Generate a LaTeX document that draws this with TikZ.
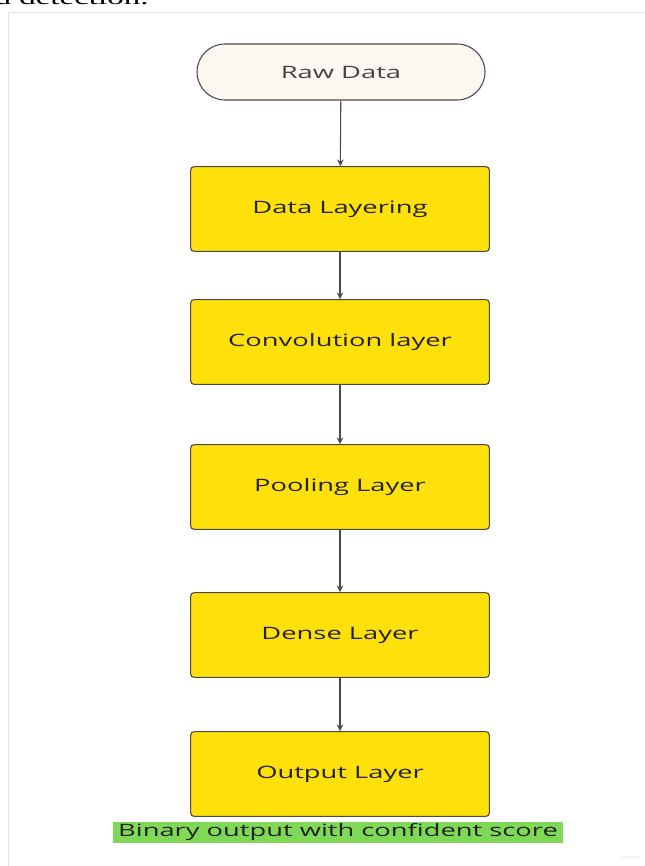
\documentclass[tikz,border=0pt]{standalone}
\usepackage{fontspec}
\setmainfont[FakeStretch=1.6]{Open Sans}
\newfontfamily\pagefont[FakeStretch=1.65]{Liberation Serif}
\usetikzlibrary{arrows.meta}
\definecolor{boxyellow}{HTML}{FEE00A}
\definecolor{rawfill}{HTML}{FCF8F1}
\definecolor{hlgreen}{HTML}{7FD957}
\definecolor{linegray}{HTML}{4A4A4A}
\definecolor{textgray}{HTML}{222222}
\begin{document}
\begin{tikzpicture}[x=0.75pt, y=-0.75pt, thick,
	layer/.style = {draw=linegray, line width=0.8pt, fill=boxyellow, rounded corners=2.5pt, minimum width=224pt, minimum height=63.5pt, text=textgray, font=\fontsize{12.8}{15}\selectfont},
	start/.style = {draw=linegray, line width=0.8pt, fill=rawfill, rounded corners=21pt, minimum width=216pt, minimum height=42pt, text=textgray!85, font=\fontsize{12.8}{15}\selectfont},
	flow/.style = {draw=linegray, line width=0.8pt, -{Stealth[length=5pt, width=5pt]}}]

		\useasboundingbox (0,0) rectangle (645,866);
		\begin{scope}
			\clip (0,0) rectangle (645,866);
			\node[anchor=base west, inner sep=0pt, font=\pagefont\fontsize{15}{17}\selectfont] (caption) at (-6,5) {d detection.};
			\draw[black!12, line width=0.75pt] (8.5,870) -- (8.5,12.5) -- (650,12.5);
		\end{scope}

		\node[start] (raw) at (341,72) {Raw Data};
		\node[layer] (layering) at (340,209) {Data Layering};
		\node[layer] (conv) at (340,342) {Convolution layer};
		\node[layer] (pool) at (340,487) {Pooling Layer};
		\node[layer] (dense) at (340,635) {Dense Layer};
		\node[layer] (output) at (340,774) {Output Layer};
		\node[fill=hlgreen, inner sep=0pt, minimum width=337.5pt, minimum height=16pt, text=textgray, font=\fontsize{12.8}{15}\selectfont] (score) at (338,832.5) {Binary output with confident score};
		\node[text=black!10, font=\fontsize{4}{5}\selectfont] (miro) at (630,858) {miro};

		\draw[flow] (raw) -- (layering);
		\draw[flow] (layering) -- (conv);
		\draw[flow] (conv) -- (pool);
		\draw[flow] (pool) -- (dense);
		\draw[flow] (dense) -- (output);
	\end{tikzpicture}
\end{document}
